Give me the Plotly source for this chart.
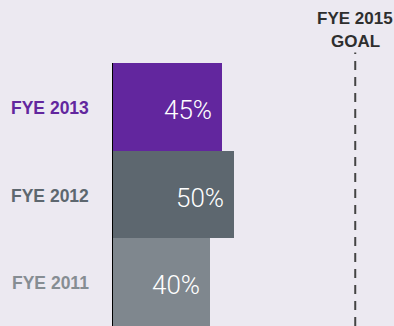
import plotly.graph_objects as go

categories = ["FYE 2011", "FYE 2012", "FYE 2013"]
values = [40, 50, 45]
bar_colors = ["#7f878e", "#5d676f", "#62269e"]
label_colors = ["#868d93", "#5d676f", "#62269e"]
goal_value = 100
goal_lines = ["FYE 2015", "GOAL"]

bg = "#ece9f1"

fig = go.Figure()
fig.add_trace(go.Bar(
    y=categories, x=values, orientation="h",
    marker=dict(color=bar_colors, line=dict(width=0)),
    hoverinfo="skip",
))

annotations = []
for cat, v, lc in zip(categories, values, label_colors):
    annotations.append(dict(
        x=0, xref="paper", y=cat, yref="y", text=f"<b>{cat}</b>",
        showarrow=False, xanchor="right", yanchor="middle", xshift=-22, yshift=-1,
        font=dict(family="Liberation Sans, Arial", size=17.5, color=lc),
    ))
    annotations.append(dict(
        x=v, xref="x", y=cat, yref="y", text=f"{v}%",
        showarrow=False, xanchor="right", yanchor="middle", xshift=-8, yshift=-3,
        font=dict(family="Roboto Light, Lato Light, Open Sans Light, Roboto",
                  size=26, color="white", weight=300),
    ))

for txt, shift in zip(goal_lines, [45, 22]):
    annotations.append(dict(
        x=goal_value, xref="x", y=1.0, yref="paper", yshift=shift, text=f"<b>{txt}</b>",
        showarrow=False, xanchor="center", yanchor="middle",
        font=dict(family="Liberation Sans, Arial", size=17, color="#2e2e2e"),
    ))

fig.add_shape(type="line", xref="x", yref="paper", x0=goal_value, x1=goal_value,
              y0=0, y1=1.04, line=dict(color="#444444", width=2, dash="9px,7px"))

fig.update_layout(
    width=394, height=326,
    margin=dict(l=113, r=0, t=63, b=0),
    paper_bgcolor=bg, plot_bgcolor=bg,
    bargap=0, showlegend=False,
    annotations=annotations,
    xaxis=dict(range=[0, 116], visible=False, fixedrange=True),
    yaxis=dict(showticklabels=False, showgrid=False, zeroline=False,
               showline=True, linecolor="#000000", linewidth=1,
               range=[-0.5, 2.5], fixedrange=True),
)

fig.write_html("out.html", config={"displayModeBar": False})
